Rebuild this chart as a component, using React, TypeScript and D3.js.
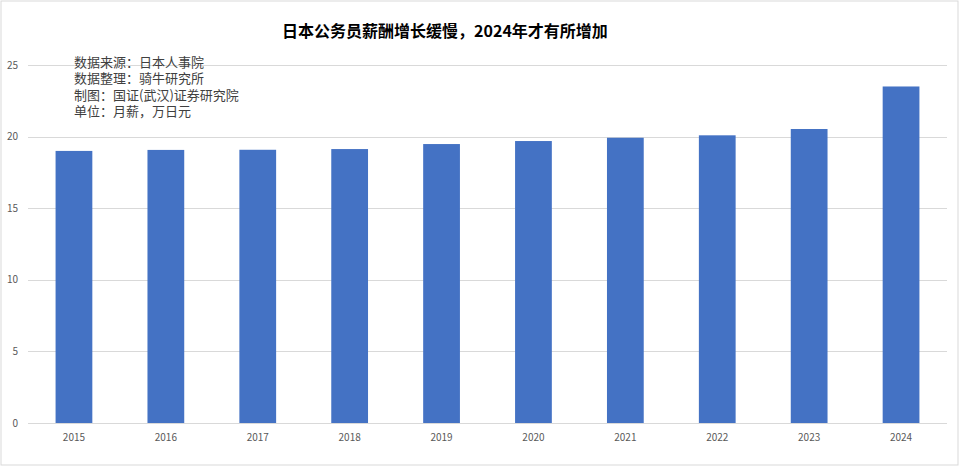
import React from "react";
import * as d3 from "d3";

const years = ["2015", "2016", "2017", "2018", "2019", "2020", "2021", "2022", "2023", "2024"];
const salaries = [19.0, 19.07, 19.08, 19.13, 19.48, 19.69, 19.92, 20.09, 20.53, 23.5];
const yTicks = [0, 5, 10, 15, 20, 25];
const title = "日本公务员薪酬增长缓慢，2024年才有所增加";
const notes = ["数据来源：日本人事院", "数据整理：骑牛研究所", "制图：国证(武汉)证券研究院", "单位：月薪，万日元"];

const W = 960;
const H = 467;
const plot = { left: 28, right: 947, top: 65, bottom: 423 };

export default function App() {
  const x = d3.scaleBand<string>().domain(years).range([plot.left, plot.right]).paddingInner(0.6).paddingOuter(0.3);
  const y = d3.scaleLinear().domain([0, 25]).range([plot.bottom, plot.top]);
  const font = "'Noto Sans CJK SC', 'Noto Sans', sans-serif";
  return (
    <svg width={W} height={H} style={{ position: "absolute", left: 0, top: 0, background: "#fff" }}>
      <rect x={1} y={1} width={957} height={464} fill="#fff" stroke="#d9d9d9" strokeWidth={1} />
      <text x={445} y={37} textAnchor="middle" fontFamily={font} fontWeight="bold" fontSize={16} fill="#000">
        {title}
      </text>
      {yTicks.map((t) => (
        <g key={t}>
          <line x1={plot.left} x2={plot.right} y1={Math.round(y(t)) + 0.5} y2={Math.round(y(t)) + 0.5} stroke="#d9d9d9" strokeWidth={1} />
          <text x={18} y={y(t) + 3.5} textAnchor="end" fontFamily={font} fontSize={10} fill="#595959">
            {t}
          </text>
        </g>
      ))}
      {years.map((yr, i) => (
        <rect key={yr} x={x(yr)} y={y(salaries[i])} width={x.bandwidth()} height={y(0) - y(salaries[i])} fill="#4472C4" />
      ))}
      {years.map((yr) => (
        <text key={yr} x={(x(yr) as number) + x.bandwidth() / 2} y={441} textAnchor="middle" fontFamily={font} fontSize={10} fill="#595959">
          {yr}
        </text>
      ))}
      {notes.map((n, i) => (
        <text key={n} x={74} y={66.5 + i * 16.5} fontFamily={font} fontSize={13} fill="#404040">
          {n}
        </text>
      ))}
    </svg>
  );
}
